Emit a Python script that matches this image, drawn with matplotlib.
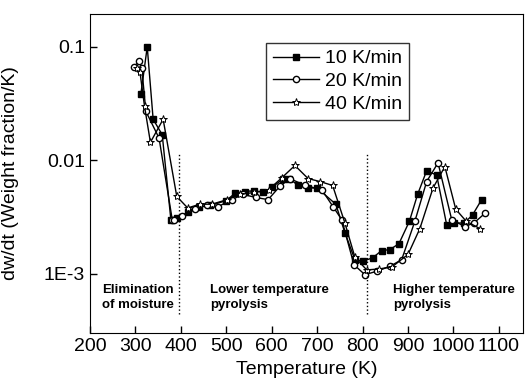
import numpy as np
import matplotlib as mpl
import matplotlib.pyplot as plt

mpl.rcParams['font.family'] = ['Liberation Sans', 'DejaVu Sans']

# 10 K/min
t10 = [312, 326, 339, 359, 378, 392, 416, 440, 465, 499, 519, 541, 562, 580, 601, 624, 639, 658,
       680, 700, 741, 761, 783, 801, 822, 842, 860, 880, 903, 921, 941, 963, 985, 1002, 1024, 1042, 1062]
y10 = [0.0385, 0.1, 0.023, 0.0168, 0.003, 0.0031, 0.0035, 0.0039, 0.0040, 0.0044, 0.0051, 0.0053, 0.0054,
       0.0052, 0.0058, 0.0068, 0.0069, 0.006, 0.0057, 0.0057, 0.0041, 0.0023, 0.00133, 0.00129, 0.00138,
       0.0016, 0.00163, 0.00184, 0.0029, 0.005, 0.0081, 0.0074, 0.0027, 0.0028, 0.0028, 0.0033, 0.0045]

# 20 K/min
t20 = [297, 308, 314, 323, 352, 381, 385, 403, 431, 457, 482, 512, 537, 565, 592, 618, 640, 673,
       710, 735, 754, 781, 805, 831, 860, 886, 915, 941, 966, 996, 1025, 1045, 1069]
y20 = [0.067, 0.075, 0.065, 0.027, 0.0157, 0.003, 0.003, 0.0032, 0.0037, 0.0040, 0.0039, 0.0045, 0.005,
       0.0047, 0.0045, 0.0059, 0.0069, 0.006, 0.0055, 0.0039, 0.003, 0.0012, 0.00098, 0.00105, 0.00116,
       0.00133, 0.0029, 0.0065, 0.0095, 0.003, 0.0026, 0.0028, 0.0034]

# 40 K/min
t40 = [303, 310, 320, 333, 361, 391, 415, 442, 468, 502, 531, 560, 593, 622, 651, 680, 706, 734,
       761, 783, 809, 836, 865, 900, 926, 955, 981, 1005, 1028, 1058]
y40 = [0.065, 0.06, 0.03, 0.0144, 0.023, 0.0048, 0.0038, 0.0041, 0.0041, 0.0045, 0.005, 0.0052, 0.0055,
       0.007, 0.009, 0.0069, 0.0065, 0.006, 0.0028, 0.0014, 0.00108, 0.0011, 0.00115, 0.00148, 0.0025,
       0.0057, 0.0088, 0.0037, 0.0029, 0.0025]

stage_lines = [395, 810]
stage_text = [(226, 'Elimination\nof moisture'), (464, 'Lower temperature\npyrolysis'),
              (867, 'Higher temperature\npyrolysis')]

fig = plt.figure(figsize=(5.25, 3.88), dpi=100)
ax = fig.add_axes([0.1714, 0.1418, 0.8248, 0.8221])

ax.plot(t10, y10, 'k-', marker='s', ms=4, lw=1, label='10 K/min')
ax.plot(t20, y20, 'k-', marker='o', ms=4.5, mfc='white', lw=1, label='20 K/min')
ax.plot(t40, y40, 'k-', marker='*', ms=6, mfc='white', mew=0.7, lw=1, label='40 K/min')

for x in stage_lines:
    ax.plot([x, x], [4.4e-4, 0.0115], 'k:', lw=1)
for x, s in stage_text:
    ax.text(x, 6.2e-4, s, fontsize=9.5, fontweight='bold', va='center', ha='left', linespacing=1.3)

ax.set_yscale('log')
ax.set_xlim(200, 1153)
ax.set_ylim(3.0e-4, 0.195)
ax.set_xticks(range(200, 1101, 100))
ax.set_yticks([0.001, 0.01, 0.1])
ax.set_yticklabels(['1E-3', '0.01', '0.1'])
ax.minorticks_off()
ax.tick_params(direction='in', length=5, labelsize=14, width=1)
ax.set_xlabel('Temperature (K)', fontsize=14)
ax.set_ylabel('dw/dt (Weight fraction/K)', fontsize=14)
ax.yaxis.set_label_coords(-0.163, 0.5)
ax.xaxis.set_label_coords(0.5, -0.088)

leg = ax.legend(loc='upper left', bbox_to_anchor=(0.406, 0.909), borderaxespad=0, fontsize=14,
                frameon=True, fancybox=False, edgecolor='black', handlelength=2.4,
                handletextpad=0.3, borderpad=0.35, labelspacing=0.26)
leg.get_frame().set_linewidth(1)

plt.savefig('out.png', dpi=100)
